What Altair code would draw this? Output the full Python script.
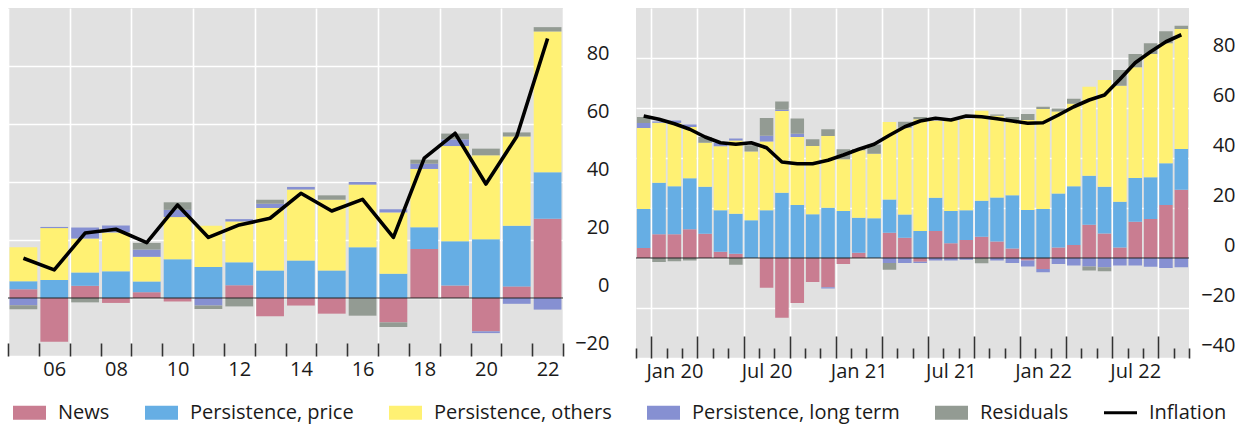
import altair as alt
import pandas as pd

# ---- annual decomposition, 2005-2022 ----
YEARS = [2005, 2006, 2007, 2008, 2009, 2010, 2011, 2012, 2013,
         2014, 2015, 2016, 2017, 2018, 2019, 2020, 2021, 2022]
A_NEWS = [3.0, -15.1, 4.2, -1.7, 2.0, -1.2, 0.0, 4.4, -6.3,
          -2.6, -5.4, 0.0, -8.4, 16.9, 4.3, -11.5, 4.0, 27.3]
A_PRICE = [2.8, 6.2, 4.6, 9.2, 3.7, 13.4, 10.7, 7.9, 9.5,
           12.9, 9.5, 17.5, 8.4, 7.5, 15.3, 20.3, 20.9, 16.1]
A_OTHERS = [11.7, 17.9, 11.7, 13.4, 8.5, 14.5, 14.2, 14.1, 21.5,
            24.5, 24.4, 21.6, 21.1, 20.1, 32.8, 28.9, 30.8, 48.5]
A_LONG = [-2.5, 0.4, 3.8, 2.4, 2.5, 2.5, -2.6, 0.8, 1.5,
          0.9, 0.0, 0.9, 1.1, 1.8, 2.3, -0.6, -2.0, -4.0]
A_RESID = [-1.4, 0.0, -1.5, 0.0, 2.3, 2.6, -1.2, -2.9, 1.4,
           0.0, 1.5, -6.1, -1.6, 1.4, 2.0, 2.3, 1.4, 1.5]
A_INFL = [13.7, 9.7, 22.4, 23.7, 19.1, 32.1, 20.9, 25.2, 27.5,
          36.1, 30.0, 34.0, 20.9, 48.2, 56.8, 39.3, 55.7, 89.5]

# ---- monthly decomposition, Dec 2019 - Nov 2022 ----
MONTHS = ["Dec 19",
          "Jan 20", "Feb 20", "Mar 20", "Apr 20", "May 20", "Jun 20",
          "Jul 20", "Aug 20", "Sep 20", "Oct 20", "Nov 20", "Dec 20",
          "Jan 21", "Feb 21", "Mar 21", "Apr 21", "May 21", "Jun 21",
          "Jul 21", "Aug 21", "Sep 21", "Oct 21", "Nov 21", "Dec 21",
          "Jan 22", "Feb 22", "Mar 22", "Apr 22", "May 22", "Jun 22",
          "Jul 22", "Aug 22", "Sep 22", "Oct 22", "Nov 22"]
M_NEWS = [4.0, 9.5, 9.5, 11.5, 9.7, 2.5, 1.7, 0.0, -11.9, -23.9, -18.0, -9.6,
          -11.7, -2.4, 2.1, 0.0, 10.1, 8.1, -1.5, 10.8, 5.9, 7.2, 8.5, 6.6,
          3.8, -1.0, -4.4, 4.2, 5.2, 13.3, 9.8, 4.2, 14.5, 15.6, 21.2, 27.3]
M_PRICE = [15.6, 20.6, 19.2, 20.4, 18.8, 16.6, 16.0, 15.1, 19.1, 26.1, 21.2, 17.5,
           20.1, 18.8, 14.0, 15.9, 13.3, 9.3, 10.8, 13.3, 12.9, 11.9, 14.4, 17.6,
           21.3, 19.2, 19.6, 21.6, 23.5, 19.6, 18.7, 18.3, 17.5, 16.7, 16.7, 16.3]
M_OTHERS = [32.4, 24.0, 25.3, 20.5, 17.6, 25.6, 29.3, 27.5, 27.5, 32.7, 27.2, 27.3,
            28.7, 20.7, 27.0, 25.8, 31.0, 34.7, 44.7, 30.7, 36.3, 36.4, 36.0, 32.7,
            30.0, 36.0, 40.0, 32.8, 33.0, 35.6, 42.7, 46.4, 44.3, 49.3, 48.0, 48.0]
M_LONG = [2.0, 0.5, 1.0, 1.0, 0.0, 1.3, 0.8, 0.0, 2.3, 0.5, 1.3, 0.0,
          -0.5, 0.0, 0.0, 0.0, -2.0, -2.0, -0.5, -1.0, -1.0, -0.7, 0.0, -1.0,
          -2.0, -2.4, -1.3, -2.4, -3.0, -3.4, -3.7, -3.0, -3.0, -3.5, -4.0, -3.7]
M_RESID = [2.4, -1.6, -1.3, -1.0, 2.3, 0.0, -2.7, 2.5, 7.1, 3.3, 6.1, 2.7,
           2.7, 4.0, 0.5, 3.7, -2.7, 2.4, 0.9, 0.0, 0.0, 0.0, -2.1, 0.5,
           1.3, 2.4, 0.9, 1.2, 2.0, -1.6, -1.6, 6.3, 5.3, 4.3, 4.8, 1.3]
M_INFL = [56.8, 55.5, 53.7, 51.5, 48.4, 46.1, 45.5, 46.1, 44.1, 38.4, 37.7, 37.7,
          39.1, 41.2, 43.5, 45.5, 49.1, 52.5, 54.8, 55.9, 55.2, 56.8, 56.5, 55.7,
          54.8, 53.9, 54.1, 57.2, 60.5, 63.2, 65.2, 71.5, 78.1, 82.5, 86.5, 89.3]

COMPONENTS = ["News", "Persistence, price", "Persistence, others",
              "Persistence, long term", "Residuals"]
LINE_NAME = "Inflation"
COLORS = ["#c97d91", "#66aee4", "#fff173", "#8690d2", "#939b93"]
LINE_COLOR = "#000000"

FONT = "Open Sans"
TEXT = "#1a1a1a"
BG = "#e1e1e1"


def parts_frame(positions, series):
    rows = []
    for i, p in enumerate(positions):
        for k, (name, vals) in enumerate(zip(COMPONENTS, series)):
            rows.append({"pos": p, "k": k, "component": name, "value": vals[i]})
    return pd.DataFrame(rows)


def line_frame(positions, values):
    return pd.DataFrame({"pos": positions, "infl": values, "series": LINE_NAME})


legend_names = COMPONENTS + [LINE_NAME]
color_scale = alt.Scale(domain=legend_names, range=COLORS + [LINE_COLOR])
swatch = "M-1,-0.42H1V0.42H-1Z"
stroke_swatch = "M-1,-0.09H1V0.09H-1Z"
shape_scale = alt.Scale(domain=legend_names, range=[swatch] * 5 + [stroke_swatch])
legend = alt.Legend(orient="none", legendX=5, legendY=388, direction="horizontal",
                    columns=6, title=None, symbolSize=1089, symbolStrokeWidth=0,
                    symbolOpacity=1, labelFont=FONT, labelFontSize=20,
                    labelColor=TEXT, labelOffset=12, columnPadding=35, labelLimit=0)


def panel(parts, line, x_domain, pad, tick_axis, label_axis, y_domain, y_values,
          width, height, with_legend_shapes=False):
    xs = alt.Scale(domain=x_domain, nice=False, zero=False)
    ys = alt.Scale(domain=y_domain, nice=False, zero=False)
    y_axis = alt.Axis(orient="right", values=y_values, grid=True, gridColor="white",
                      gridWidth=1.6, domain=False, ticks=False, labelAlign="right",
                      labelBaseline="bottom", labelOffset=-3, labelPadding=46,
                      labelFont=FONT, labelFontSize=20, labelColor=TEXT, title=None)

    bars = alt.Chart(parts).transform_stack(
        stack="value", groupby=["pos"], as_=["v0", "v1"],
        sort=[alt.SortField("k", order="ascending")], offset="zero"
    ).transform_calculate(
        x0=f"datum.pos + {pad}", x1=f"datum.pos + 1 - {pad}"
    ).mark_rect().encode(
        x=alt.X("x0:Q", scale=xs, axis=tick_axis),
        x2="x1:Q",
        y=alt.Y("v0:Q", scale=ys, axis=y_axis),
        y2="v1:Q",
        color=alt.Color("component:N", scale=color_scale, legend=legend),
    )

    zero = alt.Chart(pd.DataFrame({"z": [0]})).mark_rule(
        color="#222222", strokeWidth=1.2
    ).encode(y=alt.Y("z:Q", scale=ys, axis=y_axis))

    base_line = alt.Chart(line).transform_calculate(xc="datum.pos + 0.5")
    curve = base_line.mark_line(strokeWidth=3.6, strokeJoin="round").encode(
        x=alt.X("xc:Q", scale=xs, axis=label_axis),
        y=alt.Y("infl:Q", scale=ys, axis=y_axis),
        color=alt.Color("series:N", scale=color_scale, legend=legend),
    )

    layers = [bars, zero, curve]
    if with_legend_shapes:
        keys = base_line.transform_filter("false").mark_point(filled=True).encode(
            x=alt.X("xc:Q", scale=xs, axis=None),
            y=alt.Y("infl:Q", scale=ys, axis=y_axis),
            color=alt.Color("series:N", scale=color_scale, legend=legend),
            shape=alt.Shape("series:N", scale=shape_scale, legend=legend),
        )
        layers.append(keys)

    return alt.layer(*layers).resolve_axis(x="independent").properties(
        width=width, height=height
    )


# ---- left panel: annual ----
left_ticks = alt.Axis(orient="top", offset=-348, values=YEARS + [2023], tickSize=13,
                      tickWidth=1.6, tickColor="#333333", labels=False, domain=False,
                      grid=True, gridColor="white", gridWidth=1.6,
                      gridOpacity={"condition": {"test": "datum.value % 2 == 1", "value": 1},
                                   "value": 0},
                      title=None)
left_labels = alt.Axis(orient="bottom", values=[y + 0.5 for y in YEARS if y % 2 == 0],
                       labelExpr="substring(toString(floor(datum.value)), 2, 4)",
                       ticks=False, domain=False, grid=False, labelPadding=3,
                       labelFont=FONT, labelFontSize=20, labelColor=TEXT, title=None)
left = panel(parts_frame(YEARS, [A_NEWS, A_PRICE, A_OTHERS, A_LONG, A_RESID]),
             line_frame(YEARS, A_INFL), [YEARS[0], YEARS[-1] + 1], 0.05,
             left_ticks, left_labels, [-20, 100], [-20, 0, 20, 40, 60, 80],
             555, 348, with_legend_shapes=True)

# ---- right panel: monthly ----
idx = list(range(len(MONTHS)))
label_pos = [i + 1.5 for i, m in enumerate(MONTHS) if m[:3] in ("Jan", "Jul")]
month_array = "[" + ",".join(f"'{m}'" for m in MONTHS) + "]"
right_ticks = alt.Axis(orient="top", offset=-350, values=idx + [len(MONTHS)],
                       tickSize={"condition": {"test": "datum.value % 3 == 1", "value": 22},
                                 "value": 10},
                       tickWidth=1.6, tickColor="#333333", labels=False, domain=False,
                       grid=True, gridColor="white", gridWidth=1.6,
                       gridOpacity={"condition": {"test": "datum.value % 3 == 1", "value": 1},
                                    "value": 0},
                       title=None)
right_labels = alt.Axis(orient="bottom", values=label_pos,
                        labelExpr=f"{month_array}[floor(datum.value - 1.5)]",
                        ticks=False, domain=False, grid=False, labelPadding=3,
                        labelFont=FONT, labelFontSize=20, labelColor=TEXT, title=None)
right = panel(parts_frame(idx, [M_NEWS, M_PRICE, M_OTHERS, M_LONG, M_RESID]),
              line_frame(idx, M_INFL), [0, len(MONTHS)], 0.06,
              right_ticks, right_labels, [-40, 100], [-40, -20, 0, 20, 40, 60, 80],
              553, 350)

chart = alt.hconcat(left, right, spacing=26).resolve_scale(
    color="shared"
).properties(
    padding={"left": 7, "top": 8, "right": 0, "bottom": 2},
    background="white",
).configure_view(fill=BG, stroke=None)

chart.save("out.html", embed_options={"renderer": "svg", "actions": False})
